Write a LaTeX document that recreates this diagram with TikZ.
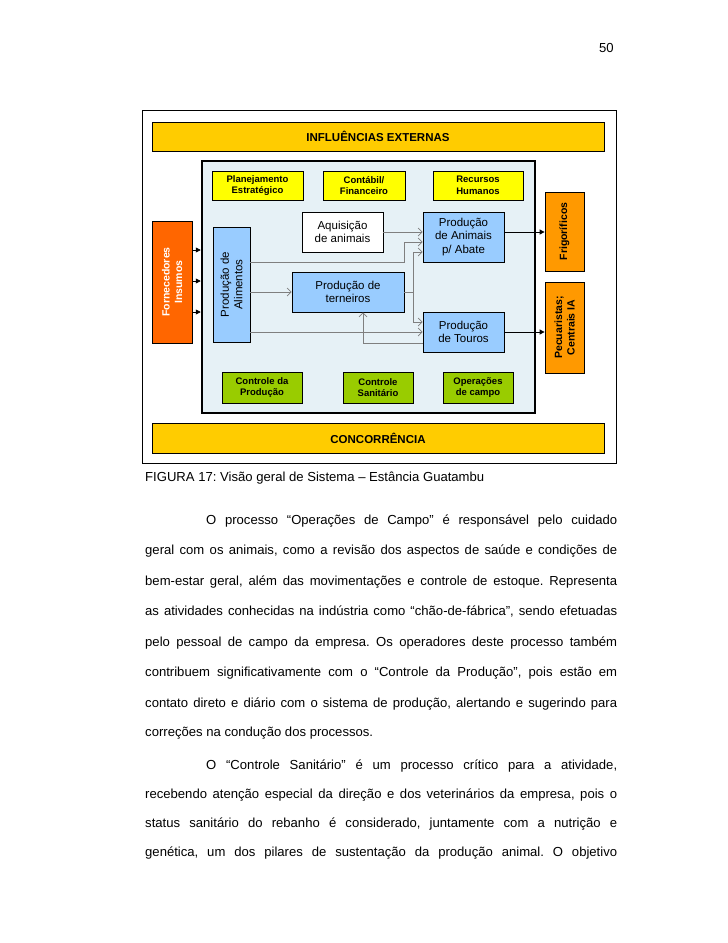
\documentclass[tikz,border=0pt]{standalone}
\usepackage{fontspec}
\setmainfont{Liberation Sans}
\usetikzlibrary{arrows.meta,calc}
\definecolor{goldx}{HTML}{FFCC00}
\definecolor{yelx}{HTML}{FFFF00}
\definecolor{greenx}{HTML}{99CC00}
\definecolor{redorx}{HTML}{FF6600}
\definecolor{orx}{HTML}{FF9900}
\definecolor{bluex}{HTML}{99CCFF}
\definecolor{softbg}{HTML}{E6F1F6}
\definecolor{grayx}{HTML}{7F7F7F}
\frenchspacing
\tikzset{
  bar/.style={draw,line width=0.8pt,fill=goldx,inner sep=0pt,minimum width=452pt,font=\fontsize{11.5}{13}\selectfont\bfseries},
  sm/.style={draw,line width=0.8pt,inner sep=0pt,align=center,font=\fontsize{9.5}{11.5}\selectfont\bfseries},
  pr/.style={draw,line width=0.8pt,fill=bluex,inner sep=0pt,align=center,font=\fontsize{11.5}{13.5}\selectfont},
  ou/.style={draw,line width=0.8pt,fill=orx,inner sep=0pt,align=center,rotate=90,font=\fontsize{10.5}{12.5}\selectfont\bfseries},
  ar/.style={-{Triangle[length=5pt,width=5pt]},line width=0.8pt},
  arg/.style={-{Straight Barb[length=4pt,width=8pt]},grayx,line width=0.7pt},
  ln/.style={anchor=base west,inner sep=0pt,font=\fontsize{13.1}{15}\selectfont}
}
\newcommand{\jl}[2][472pt]{\makebox[#1][s]{#2}}

\begin{document}
\begin{tikzpicture}[x=1pt,y=-1pt]
\useasboundingbox[fill=white] (0,0) rectangle (728,943);
\node[ln] (pg) at (599,52) {50};
% figura
\node[draw,line width=0.8pt,minimum width=474pt,minimum height=353pt] (frame) at (379,286.5) {};
\node[bar,minimum height=29pt] (infl) at (378,136.5) {INFLUÊNCIAS EXTERNAS};
\node[bar,minimum height=30pt] (conc) at (378,438) {CONCORRÊNCIA};
\node[draw,line width=2.5pt,fill=softbg,minimum width=333pt,minimum height=252pt] (inner) at (368.5,287) {};
\node[sm,fill=yelx,minimum width=91pt,minimum height=29pt] (plan) at (257.5,185.5) {Planejamento\\Estratégico};
\node[sm,fill=yelx,minimum width=82pt,minimum height=29pt] (cont) at (364,185.5) {Contábil/\\Financeiro};
\node[sm,fill=yelx,minimum width=90pt,minimum height=29pt] (rh) at (478,185.5) {Recursos\\Humanos};
\node[sm,fill=greenx,minimum width=80pt,minimum height=31pt] (ctrlp) at (262,387.5) {Controle da\\Produção};
\node[sm,fill=greenx,minimum width=70pt,minimum height=31pt] (ctrls) at (378,387.5) {Controle\\Sanitário};
\node[sm,fill=greenx,minimum width=70pt,minimum height=31pt] (oper) at (478,387.5) {Operações\\de campo};
\node[pr,rotate=90,minimum width=115pt,minimum height=37pt] (alim) at (231.5,284.5) {Produção de\\Alimentos};
\node[pr,fill=white,minimum width=81pt,minimum height=40pt] (aqui) at (342.5,232) {Aquisição\\de animais};
\node[pr,minimum width=81pt,minimum height=50pt] (abate) at (463.5,237) {Produção\\de Animais\\p/ Abate};
\node[pr,minimum width=112pt,minimum height=40pt] (tern) at (348,292) {Produção de\\terneiros};
\node[pr,minimum width=81pt,minimum height=40pt] (touros) at (463.5,332) {Produção\\de Touros};
\node[ou,fill=redorx,text=white,minimum width=122pt,minimum height=40pt] (forn) at (172,282) {Fornecedores\\Insumos};
\node[ou,minimum width=79pt,minimum height=39pt] (frig) at (564.5,231.5) {Frigoríficos};
\node[ou,minimum width=91pt,minimum height=39pt] (pec) at (564.5,327.5) {Pecuaristas;\\Centrais IA};
% conexoes
\foreach \d [count=\i] in {32,1,-30}{
  \coordinate (f\i) at ([yshift=\d pt]forn.south);
  \draw[ar] (f\i) -- (f\i -| inner.west);
}
\coordinate (o1) at ([yshift=5pt]abate.east);
\draw[ar] (o1) -- (o1 -| frig.north);
\draw[ar] (touros.east) -- (touros.east -| pec.north);
\coordinate (a1) at ([yshift=22.5pt]alim.south);
\coordinate (b2) at ([yshift=-5pt]abate.west);
\coordinate (b3) at ([yshift=-15pt]abate.west);
\coordinate (t1) at ([yshift=10pt]touros.west);
\coordinate (t3) at ([yshift=-11pt]touros.west);
\coordinate (jct) at ([xshift=9pt]tern.east);
\coordinate (fb) at ([xshift=15pt]tern.south);
\draw[arg] (aqui.east) -- (aqui.east -| abate.west);
\draw[arg] (a1) -- (a1 -| tern.east) |- (b2);
\draw[arg] (tern.west -| alim.south) -- (tern.west);
\draw[grayx,line width=0.7pt] (tern.east) -- (jct);
\draw[arg] (jct) |- (b3);
\draw[arg] (jct) |- (t1);
\draw[arg] (touros.west -| alim.south) -- (touros.west);
\draw[arg] (t3) -| (fb);
% texto
\node[ln] (cap) at (145,481) {FIGURA 17: Visão geral de Sistema – Estância Guatambu};
\node[ln] (l1) at (206,524) {\jl[411pt]{O processo “Operações de Campo” é responsável pelo cuidado}};
\node[ln] (l2) at (145,554.5) {\jl{geral com os animais, como a revisão dos aspectos de saúde e condições de}};
\node[ln] (l3) at (145,585) {\jl{bem-estar geral, além das movimentações e controle de estoque. Representa}};
\node[ln] (l4) at (145,615.5) {\jl{as atividades conhecidas na indústria como “chão-de-fábrica”, sendo efetuadas}};
\node[ln] (l5) at (145,646) {\jl{pelo pessoal de campo da empresa. Os operadores deste processo também}};
\node[ln] (l6) at (145,676.5) {\jl{contribuem significativamente com o “Controle da Produção”, pois estão em}};
\node[ln] (l7) at (145,707) {\jl{contato direto e diário com o sistema de produção, alertando e sugerindo para}};
\node[ln] (l8) at (145,736) {correções na condução dos processos.};
\node[ln] (l9) at (206,769) {\jl[411pt]{O “Controle Sanitário” é um processo crítico para a atividade,}};
\node[ln] (l10) at (145,798) {\jl{recebendo atenção especial da direção e dos veterinários da empresa, pois o}};
\node[ln] (l11) at (145,827) {\jl{status sanitário do rebanho é considerado, juntamente com a nutrição e}};
\node[ln] (l12) at (145,856) {\jl{genética, um dos pilares de sustentação da produção animal. O objetivo}};
\end{tikzpicture}
\end{document}
